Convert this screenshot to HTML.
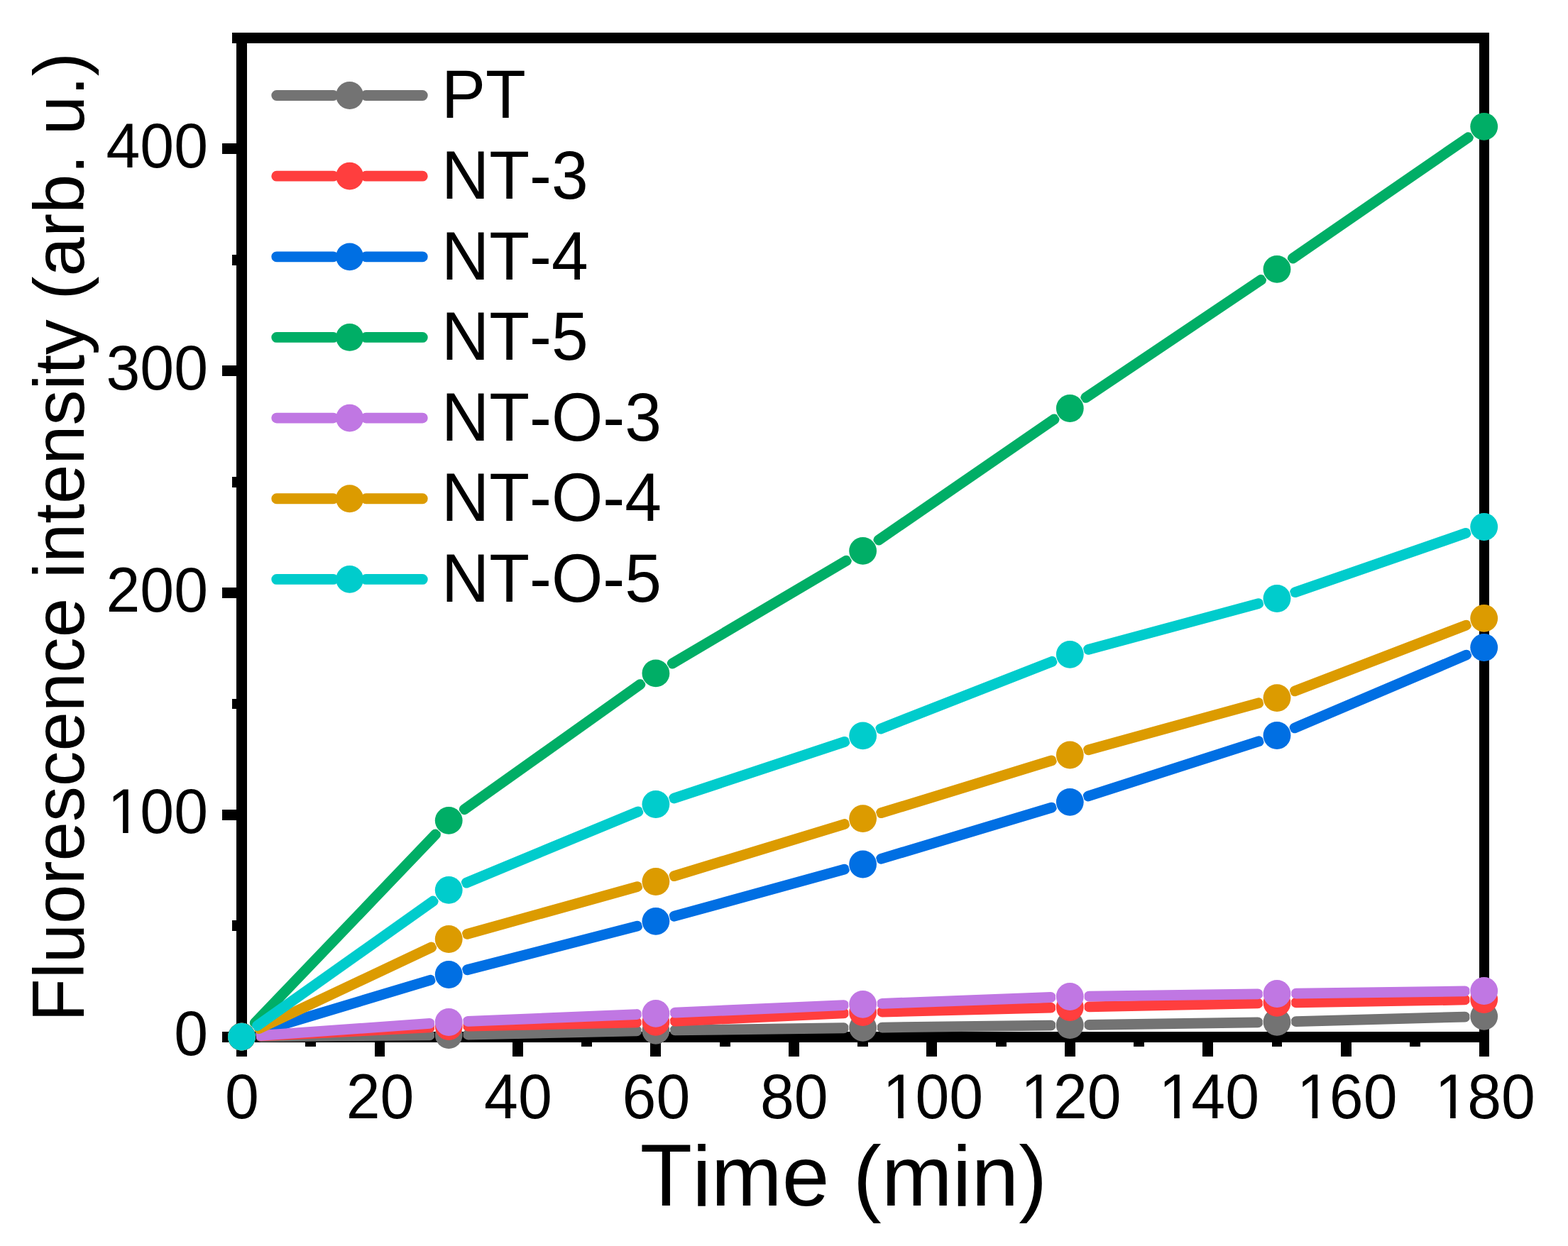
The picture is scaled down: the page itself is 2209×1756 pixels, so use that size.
<!DOCTYPE html><html><head><meta charset="utf-8"><title>Fluorescence intensity vs time</title>
<style>html,body{margin:0;padding:0;background:#fff;overflow:hidden;}svg{display:block;}text{font-family:"Liberation Sans",Arial,Helvetica,sans-serif;fill:#000;font-kerning:none;}</style></head><body>
<svg width="2209" height="1756" viewBox="0 0 2209 1756">
<rect x="0" y="0" width="2209" height="1756" fill="#fff"/>
<defs>
<mask id="m0" maskUnits="userSpaceOnUse" x="0" y="0" width="2209" height="1756">
<rect x="0" y="0" width="2209" height="1756" fill="#fff"/>
<circle cx="340.5" cy="1461.2" r="20.4" fill="#000"/>
<circle cx="632.2" cy="1458.6" r="20.4" fill="#000"/>
<circle cx="923.9" cy="1452.3" r="20.4" fill="#000"/>
<circle cx="1215.6" cy="1448.4" r="20.4" fill="#000"/>
<circle cx="1507.3" cy="1444.7" r="20.4" fill="#000"/>
<circle cx="1799.0" cy="1440.4" r="20.4" fill="#000"/>
<circle cx="2090.7" cy="1432.3" r="20.4" fill="#000"/>
</mask>
<mask id="m1" maskUnits="userSpaceOnUse" x="0" y="0" width="2209" height="1756">
<rect x="0" y="0" width="2209" height="1756" fill="#fff"/>
<circle cx="340.5" cy="1461.2" r="20.4" fill="#000"/>
<circle cx="632.2" cy="1446.6" r="20.4" fill="#000"/>
<circle cx="923.9" cy="1440.4" r="20.4" fill="#000"/>
<circle cx="1215.6" cy="1426.65" r="20.4" fill="#000"/>
<circle cx="1507.3" cy="1419.5" r="20.4" fill="#000"/>
<circle cx="1799.0" cy="1413.4" r="20.4" fill="#000"/>
<circle cx="2090.7" cy="1408.5" r="20.4" fill="#000"/>
</mask>
<mask id="m2" maskUnits="userSpaceOnUse" x="0" y="0" width="2209" height="1756">
<rect x="0" y="0" width="2209" height="1756" fill="#fff"/>
<circle cx="340.5" cy="1461.2" r="20.4" fill="#000"/>
<circle cx="632.2" cy="1373.5" r="20.4" fill="#000"/>
<circle cx="923.9" cy="1298.4" r="20.4" fill="#000"/>
<circle cx="1215.6" cy="1218.0" r="20.4" fill="#000"/>
<circle cx="1507.3" cy="1130.3" r="20.4" fill="#000"/>
<circle cx="1799.0" cy="1036.5" r="20.4" fill="#000"/>
<circle cx="2090.7" cy="912.5" r="20.4" fill="#000"/>
</mask>
<mask id="m3" maskUnits="userSpaceOnUse" x="0" y="0" width="2209" height="1756">
<rect x="0" y="0" width="2209" height="1756" fill="#fff"/>
<circle cx="340.5" cy="1461.2" r="20.4" fill="#000"/>
<circle cx="632.2" cy="1156.4" r="20.4" fill="#000"/>
<circle cx="923.9" cy="948.9" r="20.4" fill="#000"/>
<circle cx="1215.6" cy="776.4" r="20.4" fill="#000"/>
<circle cx="1507.3" cy="575.5" r="20.4" fill="#000"/>
<circle cx="1799.0" cy="379.4" r="20.4" fill="#000"/>
<circle cx="2090.7" cy="178.4" r="20.4" fill="#000"/>
</mask>
<mask id="m4" maskUnits="userSpaceOnUse" x="0" y="0" width="2209" height="1756">
<rect x="0" y="0" width="2209" height="1756" fill="#fff"/>
<circle cx="340.5" cy="1461.2" r="20.4" fill="#000"/>
<circle cx="632.2" cy="1440.5" r="20.4" fill="#000"/>
<circle cx="923.9" cy="1428.4" r="20.4" fill="#000"/>
<circle cx="1215.6" cy="1415.35" r="20.4" fill="#000"/>
<circle cx="1507.3" cy="1404.5" r="20.4" fill="#000"/>
<circle cx="1799.0" cy="1400.5" r="20.4" fill="#000"/>
<circle cx="2090.7" cy="1396.5" r="20.4" fill="#000"/>
</mask>
<mask id="m5" maskUnits="userSpaceOnUse" x="0" y="0" width="2209" height="1756">
<rect x="0" y="0" width="2209" height="1756" fill="#fff"/>
<circle cx="340.5" cy="1461.2" r="20.4" fill="#000"/>
<circle cx="632.2" cy="1323.5" r="20.4" fill="#000"/>
<circle cx="923.9" cy="1242.5" r="20.4" fill="#000"/>
<circle cx="1215.6" cy="1153.6" r="20.4" fill="#000"/>
<circle cx="1507.3" cy="1064.0" r="20.4" fill="#000"/>
<circle cx="1799.0" cy="983.6" r="20.4" fill="#000"/>
<circle cx="2090.7" cy="871.4" r="20.4" fill="#000"/>
</mask>
<mask id="m6" maskUnits="userSpaceOnUse" x="0" y="0" width="2209" height="1756">
<rect x="0" y="0" width="2209" height="1756" fill="#fff"/>
<circle cx="340.5" cy="1461.2" r="20.4" fill="#000"/>
<circle cx="632.2" cy="1254.4" r="20.4" fill="#000"/>
<circle cx="923.9" cy="1133.5" r="20.4" fill="#000"/>
<circle cx="1215.6" cy="1036.9" r="20.4" fill="#000"/>
<circle cx="1507.3" cy="922.4" r="20.4" fill="#000"/>
<circle cx="1799.0" cy="843.5" r="20.4" fill="#000"/>
<circle cx="2090.7" cy="742.5" r="20.4" fill="#000"/>
</mask>
</defs>
<g fill="#000" shape-rendering="crispEdges">
<rect x="333.05" y="45.97999999999983" width="14.9" height="1422.7700000000002"/>
<rect x="2084.0" y="45.97999999999983" width="14.0" height="1422.7700000000002"/>
<rect x="333.05" y="45.97999999999983" width="1764.95" height="14.9"/>
<rect x="333.05" y="1453.85" width="1764.95" height="14.9"/>
<rect x="333.05" y="1468.75" width="14.9" height="20.0"/>
<rect x="430.28" y="1468.75" width="14.9" height="6.0"/>
<rect x="527.52" y="1468.75" width="14.9" height="20.0"/>
<rect x="624.75" y="1468.75" width="14.9" height="6.0"/>
<rect x="721.98" y="1468.75" width="14.9" height="20.0"/>
<rect x="819.22" y="1468.75" width="14.9" height="6.0"/>
<rect x="916.45" y="1468.75" width="14.9" height="20.0"/>
<rect x="1013.68" y="1468.75" width="14.9" height="6.0"/>
<rect x="1110.92" y="1468.75" width="14.9" height="20.0"/>
<rect x="1208.15" y="1468.75" width="14.9" height="6.0"/>
<rect x="1305.38" y="1468.75" width="14.9" height="20.0"/>
<rect x="1402.62" y="1468.75" width="14.9" height="6.0"/>
<rect x="1499.85" y="1468.75" width="14.9" height="20.0"/>
<rect x="1597.08" y="1468.75" width="14.9" height="6.0"/>
<rect x="1694.32" y="1468.75" width="14.9" height="20.0"/>
<rect x="1791.55" y="1468.75" width="14.9" height="6.0"/>
<rect x="1888.78" y="1468.75" width="14.9" height="20.0"/>
<rect x="1986.02" y="1468.75" width="14.9" height="6.0"/>
<rect x="2084.0" y="1468.75" width="14.0" height="20.0"/>
<rect x="313.05" y="1453.85" width="20.0" height="14.9"/>
<rect x="327.05" y="1297.42" width="6.0" height="14.9"/>
<rect x="313.05" y="1140.99" width="20.0" height="14.9"/>
<rect x="327.05" y="984.56" width="6.0" height="14.9"/>
<rect x="313.05" y="828.13" width="20.0" height="14.9"/>
<rect x="327.05" y="671.70" width="6.0" height="14.9"/>
<rect x="313.05" y="515.27" width="20.0" height="14.9"/>
<rect x="327.05" y="358.84" width="6.0" height="14.9"/>
<rect x="313.05" y="202.41" width="20.0" height="14.9"/>
<rect x="327.05" y="45.98" width="6.0" height="14.9"/>
</g>
<path d="M367.50 1460.96L605.20 1458.84M659.19 1458.02L896.91 1452.88M950.90 1451.94L1188.60 1448.76M1242.60 1448.06L1480.30 1445.04M1534.30 1444.30L1772.00 1440.80M1825.99 1439.65L2063.71 1433.05" fill="none" stroke="#737373" stroke-width="14.8" stroke-linecap="round" mask="url(#m0)"/>
<circle cx="340.5" cy="1461.2" r="19.4" fill="#737373"/>
<circle cx="632.2" cy="1458.6" r="19.4" fill="#737373"/>
<circle cx="923.9" cy="1452.3" r="19.4" fill="#737373"/>
<circle cx="1215.6" cy="1448.4" r="19.4" fill="#737373"/>
<circle cx="1507.3" cy="1444.7" r="19.4" fill="#737373"/>
<circle cx="1799.0" cy="1440.4" r="19.4" fill="#737373"/>
<circle cx="2090.7" cy="1432.3" r="19.4" fill="#737373"/>
<path d="M367.47 1459.85L605.23 1447.95M659.19 1446.03L896.91 1440.97M950.87 1439.13L1188.63 1427.92M1242.59 1425.99L1480.31 1420.16M1534.29 1418.94L1772.01 1413.96M1826.00 1412.95L2063.70 1408.95" fill="none" stroke="#FF3E3E" stroke-width="14.8" stroke-linecap="round" mask="url(#m1)"/>
<circle cx="340.5" cy="1461.2" r="19.4" fill="#FF3E3E"/>
<circle cx="632.2" cy="1446.6" r="19.4" fill="#FF3E3E"/>
<circle cx="923.9" cy="1440.4" r="19.4" fill="#FF3E3E"/>
<circle cx="1215.6" cy="1426.65" r="19.4" fill="#FF3E3E"/>
<circle cx="1507.3" cy="1419.5" r="19.4" fill="#FF3E3E"/>
<circle cx="1799.0" cy="1413.4" r="19.4" fill="#FF3E3E"/>
<circle cx="2090.7" cy="1408.5" r="19.4" fill="#FF3E3E"/>
<path d="M366.36 1453.43L606.34 1381.27M658.35 1366.77L897.75 1305.13M949.93 1291.23L1189.57 1225.17M1241.46 1210.23L1481.44 1138.07M1533.00 1122.03L1773.30 1044.77M1823.85 1025.94L2065.85 923.06" fill="none" stroke="#006FE3" stroke-width="14.8" stroke-linecap="round" mask="url(#m2)"/>
<circle cx="340.5" cy="1461.2" r="19.4" fill="#006FE3"/>
<circle cx="632.2" cy="1373.5" r="19.4" fill="#006FE3"/>
<circle cx="923.9" cy="1298.4" r="19.4" fill="#006FE3"/>
<circle cx="1215.6" cy="1218.0" r="19.4" fill="#006FE3"/>
<circle cx="1507.3" cy="1130.3" r="19.4" fill="#006FE3"/>
<circle cx="1799.0" cy="1036.5" r="19.4" fill="#006FE3"/>
<circle cx="2090.7" cy="912.5" r="19.4" fill="#006FE3"/>
<path d="M359.17 1441.69L613.53 1175.91M654.20 1140.75L901.90 964.55M947.14 935.16L1192.36 790.14M1237.84 761.09L1485.06 590.81M1529.71 560.44L1776.59 394.46M1821.23 364.08L2068.47 193.72" fill="none" stroke="#00AE66" stroke-width="14.8" stroke-linecap="round" mask="url(#m3)"/>
<circle cx="340.5" cy="1461.2" r="19.4" fill="#00AE66"/>
<circle cx="632.2" cy="1156.4" r="19.4" fill="#00AE66"/>
<circle cx="923.9" cy="948.9" r="19.4" fill="#00AE66"/>
<circle cx="1215.6" cy="776.4" r="19.4" fill="#00AE66"/>
<circle cx="1507.3" cy="575.5" r="19.4" fill="#00AE66"/>
<circle cx="1799.0" cy="379.4" r="19.4" fill="#00AE66"/>
<circle cx="2090.7" cy="178.4" r="19.4" fill="#00AE66"/>
<path d="M367.43 1459.29L605.27 1442.41M659.18 1439.38L896.92 1429.52M950.87 1427.19L1188.63 1416.56M1242.58 1414.35L1480.32 1405.50M1534.30 1404.13L1772.00 1400.87M1826.00 1400.13L2063.70 1396.87" fill="none" stroke="#C077E3" stroke-width="14.8" stroke-linecap="round" mask="url(#m4)"/>
<circle cx="340.5" cy="1461.2" r="19.4" fill="#C077E3"/>
<circle cx="632.2" cy="1440.5" r="19.4" fill="#C077E3"/>
<circle cx="923.9" cy="1428.4" r="19.4" fill="#C077E3"/>
<circle cx="1215.6" cy="1415.35" r="19.4" fill="#C077E3"/>
<circle cx="1507.3" cy="1404.5" r="19.4" fill="#C077E3"/>
<circle cx="1799.0" cy="1400.5" r="19.4" fill="#C077E3"/>
<circle cx="2090.7" cy="1396.5" r="19.4" fill="#C077E3"/>
<path d="M364.92 1449.67L607.78 1335.03M658.22 1316.28L897.88 1249.72M949.73 1234.63L1189.77 1161.47M1241.41 1145.67L1481.49 1071.93M1533.33 1056.83L1772.97 990.77M1824.20 973.91L2065.50 881.09" fill="none" stroke="#DC9B00" stroke-width="14.8" stroke-linecap="round" mask="url(#m5)"/>
<circle cx="340.5" cy="1461.2" r="19.4" fill="#DC9B00"/>
<circle cx="632.2" cy="1323.5" r="19.4" fill="#DC9B00"/>
<circle cx="923.9" cy="1242.5" r="19.4" fill="#DC9B00"/>
<circle cx="1215.6" cy="1153.6" r="19.4" fill="#DC9B00"/>
<circle cx="1507.3" cy="1064.0" r="19.4" fill="#DC9B00"/>
<circle cx="1799.0" cy="983.6" r="19.4" fill="#DC9B00"/>
<circle cx="2090.7" cy="871.4" r="19.4" fill="#DC9B00"/>
<path d="M362.53 1445.58L610.17 1270.02M657.14 1244.06L898.96 1143.84M949.53 1125.01L1189.97 1045.39M1240.73 1027.03L1482.17 932.27M1533.36 915.35L1772.94 850.55M1824.51 834.67L2065.19 751.33" fill="none" stroke="#00CCCC" stroke-width="14.8" stroke-linecap="round" mask="url(#m6)"/>
<circle cx="340.5" cy="1461.2" r="19.4" fill="#00CCCC"/>
<circle cx="632.2" cy="1254.4" r="19.4" fill="#00CCCC"/>
<circle cx="923.9" cy="1133.5" r="19.4" fill="#00CCCC"/>
<circle cx="1215.6" cy="1036.9" r="19.4" fill="#00CCCC"/>
<circle cx="1507.3" cy="922.4" r="19.4" fill="#00CCCC"/>
<circle cx="1799.0" cy="843.5" r="19.4" fill="#00CCCC"/>
<circle cx="2090.7" cy="742.5" r="19.4" fill="#00CCCC"/>
<path d="M389.7 134.5H469.6M515.6 134.5H595.3000000000001" stroke="#737373" stroke-width="14.8" stroke-linecap="round"/>
<circle cx="492.6" cy="134.5" r="19.4" fill="#737373"/>
<text transform="translate(622,166.20) scale(1,1.045)" font-size="93">PT</text>
<path d="M389.7 248.15H469.6M515.6 248.15H595.3000000000001" stroke="#FF3E3E" stroke-width="14.8" stroke-linecap="round"/>
<circle cx="492.6" cy="248.15" r="19.4" fill="#FF3E3E"/>
<text transform="translate(622,279.85) scale(1,1.045)" font-size="93">NT-3</text>
<path d="M389.7 361.8H469.6M515.6 361.8H595.3000000000001" stroke="#006FE3" stroke-width="14.8" stroke-linecap="round"/>
<circle cx="492.6" cy="361.8" r="19.4" fill="#006FE3"/>
<text transform="translate(622,393.50) scale(1,1.045)" font-size="93">NT-4</text>
<path d="M389.7 475.45H469.6M515.6 475.45H595.3000000000001" stroke="#00AE66" stroke-width="14.8" stroke-linecap="round"/>
<circle cx="492.6" cy="475.45" r="19.4" fill="#00AE66"/>
<text transform="translate(622,507.15) scale(1,1.045)" font-size="93">NT-5</text>
<path d="M389.7 589.1H469.6M515.6 589.1H595.3000000000001" stroke="#C077E3" stroke-width="14.8" stroke-linecap="round"/>
<circle cx="492.6" cy="589.1" r="19.4" fill="#C077E3"/>
<text transform="translate(622,620.80) scale(1,1.045)" font-size="93">NT-O-3</text>
<path d="M389.7 702.75H469.6M515.6 702.75H595.3000000000001" stroke="#DC9B00" stroke-width="14.8" stroke-linecap="round"/>
<circle cx="492.6" cy="702.75" r="19.4" fill="#DC9B00"/>
<text transform="translate(622,734.45) scale(1,1.045)" font-size="93">NT-O-4</text>
<path d="M389.7 816.4H469.6M515.6 816.4H595.3000000000001" stroke="#00CCCC" stroke-width="14.8" stroke-linecap="round"/>
<circle cx="492.6" cy="816.4" r="19.4" fill="#00CCCC"/>
<text transform="translate(622,848.10) scale(1,1.045)" font-size="93">NT-O-5</text>
<g transform="translate(341.00,1576.00) scale(1,1.03)"><text x="-23.91" y="0" font-size="86">0</text></g>
<g transform="translate(535.47,1576.00) scale(1,1.03)"><text x="-47.83" y="0" font-size="86">20</text></g>
<g transform="translate(729.93,1576.00) scale(1,1.03)"><text x="-47.83" y="0" font-size="86">40</text></g>
<g transform="translate(924.40,1576.00) scale(1,1.03)"><text x="-47.83" y="0" font-size="86">60</text></g>
<g transform="translate(1118.87,1576.00) scale(1,1.03)"><text x="-47.83" y="0" font-size="86">80</text></g>
<g transform="translate(1313.33,1576.00) scale(1,1.03)"><text x="-71.74" y="0" font-size="86"><tspan dx="2.0">1</tspan><tspan dx="-2.0">00</tspan></text><rect x="-64.64" y="-7.22" width="16.53" height="8.42" fill="#fff"/><rect x="-40.52" y="-7.22" width="15.86" height="8.42" fill="#fff"/></g>
<g transform="translate(1507.80,1576.00) scale(1,1.03)"><text x="-71.74" y="0" font-size="86"><tspan dx="2.0">1</tspan><tspan dx="-2.0">20</tspan></text><rect x="-64.64" y="-7.22" width="16.53" height="8.42" fill="#fff"/><rect x="-40.52" y="-7.22" width="15.86" height="8.42" fill="#fff"/></g>
<g transform="translate(1702.27,1576.00) scale(1,1.03)"><text x="-71.74" y="0" font-size="86"><tspan dx="2.0">1</tspan><tspan dx="-2.0">40</tspan></text><rect x="-64.64" y="-7.22" width="16.53" height="8.42" fill="#fff"/><rect x="-40.52" y="-7.22" width="15.86" height="8.42" fill="#fff"/></g>
<g transform="translate(1896.73,1576.00) scale(1,1.03)"><text x="-71.74" y="0" font-size="86"><tspan dx="2.0">1</tspan><tspan dx="-2.0">60</tspan></text><rect x="-64.64" y="-7.22" width="16.53" height="8.42" fill="#fff"/><rect x="-40.52" y="-7.22" width="15.86" height="8.42" fill="#fff"/></g>
<g transform="translate(2091.20,1576.00) scale(1,1.03)"><text x="-71.74" y="0" font-size="86"><tspan dx="2.0">1</tspan><tspan dx="-2.0">80</tspan></text><rect x="-64.64" y="-7.22" width="16.53" height="8.42" fill="#fff"/><rect x="-40.52" y="-7.22" width="15.86" height="8.42" fill="#fff"/></g>
<g transform="translate(293.00,1487.30) scale(1,1.03)"><text x="-47.83" y="0" font-size="86">0</text></g>
<g transform="translate(293.00,1174.44) scale(1,1.03)"><text x="-143.49" y="0" font-size="86"><tspan dx="2.0">1</tspan><tspan dx="-2.0">00</tspan></text><rect x="-136.39" y="-7.22" width="16.53" height="8.42" fill="#fff"/><rect x="-112.26" y="-7.22" width="15.86" height="8.42" fill="#fff"/></g>
<g transform="translate(293.00,861.58) scale(1,1.03)"><text x="-143.49" y="0" font-size="86">200</text></g>
<g transform="translate(293.00,548.72) scale(1,1.03)"><text x="-143.49" y="0" font-size="86">300</text></g>
<g transform="translate(293.00,235.86) scale(1,1.03)"><text x="-143.49" y="0" font-size="86">400</text></g>
<text transform="translate(901.86,1698.8) scale(1,1.04)" font-size="120">T</text>
<text x="975.16" y="1698.8" font-size="120">ime (min)</text>
<g transform="translate(118,1440.1) rotate(-90)"><text transform="scale(1,1.05)" x="0" y="0" font-size="99.5">F</text><text x="60.78" y="0" font-size="99.5">luorescence intensity (arb. u.)</text></g>
</svg></body></html>
